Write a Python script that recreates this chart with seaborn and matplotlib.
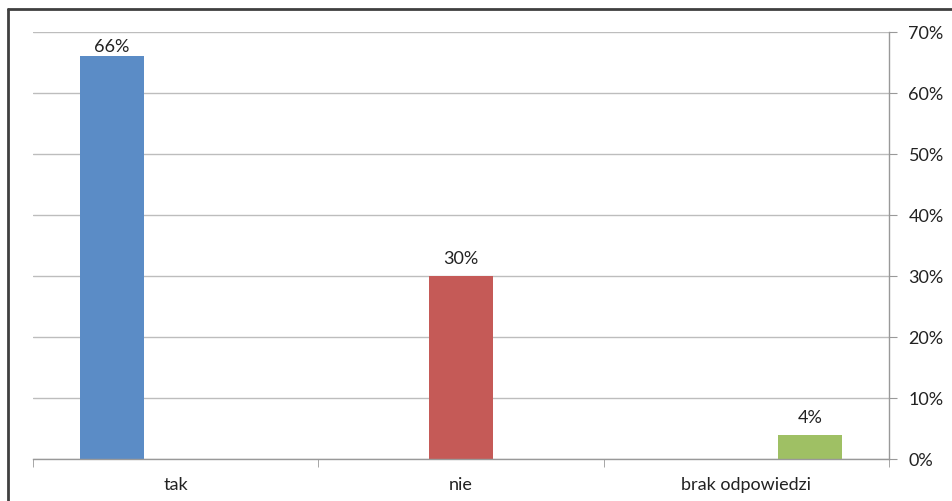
import numpy as np
import pandas as pd
import seaborn as sns
import matplotlib.pyplot as plt
from matplotlib.lines import Line2D
from matplotlib.ticker import FuncFormatter, FixedLocator

# Data
categories = ["tak", "nie", "brak odpowiedzi"]
shares = [0.66, 0.30, 0.04]
bar_colors = ["#5B8CC6", "#C55A57", "#9FC064"]

df = pd.DataFrame({"odp": categories, "udzial": shares})

sns.set_style("white")
plt.rcParams["font.family"] = ["Lato", "DejaVu Sans"]

fig = plt.figure(figsize=(9.53, 5.02), dpi=100)
ax = fig.add_axes([0.0346, 0.0837, 0.8983, 0.8506])

sns.barplot(data=df, x="odp", y="udzial", hue="odp", order=categories,
            hue_order=categories, palette=bar_colors, saturation=1, dodge=True,
            width=0.67, gap=0, linewidth=0, legend=False, ax=ax)

ax.set_xlim(-0.5, 2.5)
ax.set_ylim(0, 0.7)
ax.set_xlabel("")
ax.set_ylabel("")

# value labels above the bars (the top one sits closer, as in the original)
for cont in ax.containers:
    vals = [v for v in cont.datavalues if v > 0]
    pad = 2 if vals and vals[0] > 0.6 else 7
    ax.bar_label(cont, labels=[f"{v * 100:.0f}%" if v > 0 else "" for v in cont.datavalues],
                 padding=pad, fontsize=13, color="#222222")

# gridlines and right-hand percent axis
ax.yaxis.tick_right()
ax.set_yticks(np.arange(0, 0.71, 0.1))
ax.yaxis.set_major_formatter(FuncFormatter(lambda v, p: f"{v * 100:.0f}%"))
ax.grid(axis="y", color="#bdbdbd", linewidth=1)
ax.set_axisbelow(True)
ax.tick_params(axis="y", right=True, length=6, color="#999999", labelsize=13,
               labelcolor="#222222", pad=8)

# category labels centred, tick marks on category boundaries
ax.tick_params(axis="x", which="major", length=0, labelsize=13, labelcolor="#222222", pad=12)
ax.xaxis.set_minor_locator(FixedLocator([-0.5, 0.5, 1.5, 2.5]))
ax.tick_params(axis="x", which="minor", bottom=True, length=6, color="#999999")

for side in ["top", "left"]:
    ax.spines[side].set_visible(False)
for side in ["right", "bottom"]:
    ax.spines[side].set_color("#999999")
    ax.spines[side].set_linewidth(1)

# outer chart frame (top and left edges visible)
fig.add_artist(Line2D([8 / 953, 1], [1 - 10 / 502, 1 - 10 / 502], color="#404040", lw=2))
fig.add_artist(Line2D([8 / 953, 8 / 953], [0, 1 - 10 / 502], color="#404040", lw=2))

fig.savefig("out.png", dpi=100)
